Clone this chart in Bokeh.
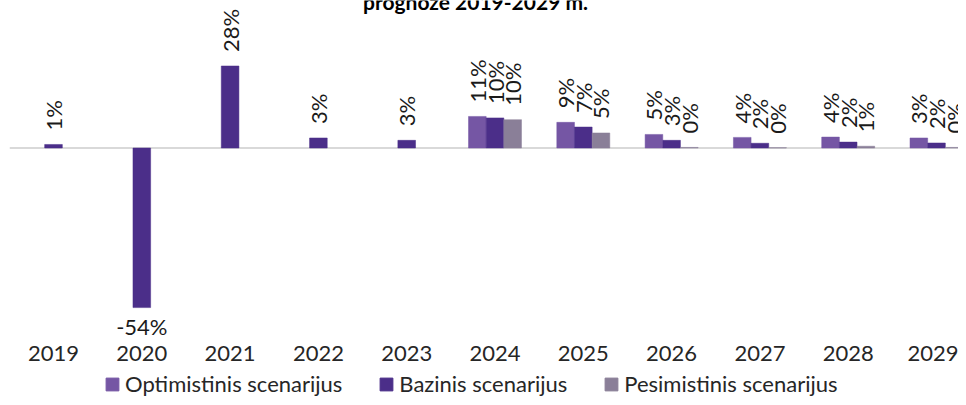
import math
from bokeh.plotting import figure
from bokeh.layouts import column
from bokeh.core.properties import value
from bokeh.models import (ColumnDataSource, Range1d, FixedTicker, Span, Legend,
                          LegendItem, Label)
from bokeh.embed import file_html
from bokeh.resources import INLINE

years = ["2019", "2020", "2021", "2022", "2023", "2024", "2025", "2026", "2027", "2028", "2029"]
optimistinis = [None, None, None, None, None, 10.7, 8.7, 4.6, 3.6, 3.7, 3.4]
bazinis = [1.2, -54.1, 27.8, 3.4, 2.6, 10.2, 7.1, 2.6, 1.6, 2.0, 1.7]
pesimistinis = [None, None, None, None, None, 9.6, 5.1, 0.2, 0.1, 0.6, 0.2]
series_names = ["Optimistinis scenarijus", "Bazinis scenarijus", "Pesimistinis scenarijus"]
series_colors = ["#7556A4", "#4B2E89", "#8A7F98"]
title_text = "prognozė 2019-2029 m."

FONT = "Lato"
PX_PER_UNIT = 2.95
FRAME_H = 338
ZERO_PX = 147.5
LEFT = 9
W = 958
CAT_W = 88.3

p = figure(width=W, height=368,
           output_backend="svg", toolbar_location=None,
           x_range=Range1d(-(53 - LEFT) / CAT_W, -(53 - LEFT) / CAT_W + (W - LEFT) / CAT_W),
           y_range=Range1d(-(FRAME_H - ZERO_PX) / PX_PER_UNIT, ZERO_PX / PX_PER_UNIT),
           y_axis_location=None,
           min_border_left=LEFT, min_border_right=0, min_border_top=0,
           min_border_bottom=368 - FRAME_H)
p.outline_line_color = None
p.xgrid.visible = False
p.ygrid.visible = False

p.add_layout(Span(location=0, dimension="width", line_color="#D9D9D9",
                  line_width=2, level="underlay"))

offsets = [-0.2, 0.0, 0.2]
all_series = [optimistinis, bazinis, pesimistinis]
sources = []
for vals, off, col in zip(all_series, offsets, series_colors):
    xs, ys, pos_x, pos_y, pos_t, neg_x, neg_y, neg_t = [], [], [], [], [], [], [], []
    for i, v in enumerate(vals):
        if v is None:
            continue
        xs.append(i + off)
        ys.append(v)
        lab = f"{round(v)}%"
        if v >= 0:
            pos_x.append(i + off); pos_y.append(v); pos_t.append(lab)
        else:
            neg_x.append(i + off); neg_y.append(v); neg_t.append(lab)
    src = ColumnDataSource(dict(x=xs, top=ys))
    sources.append(src)
    p.vbar(x="x", top="top", bottom=0, width=0.2, source=src,
           fill_color=col, line_color=col, line_width=0.5)
    p.text(x=pos_x, y=pos_y, text=pos_t, angle=math.pi / 2,
           text_align="left", text_baseline="middle", y_offset=-14,
           text_font=value(FONT), text_font_size="22px", text_color="#1a1a1a")
    if neg_x:
        p.text(x=neg_x, y=neg_y, text=neg_t, text_align="center",
               text_baseline="top", y_offset=5,
               text_font=value(FONT), text_font_size="22px", text_color="#1a1a1a")

p.xaxis.ticker = FixedTicker(ticks=list(range(len(years))))
p.xaxis.major_label_overrides = {i: y for i, y in enumerate(years)}
p.xaxis.axis_line_color = None
p.xaxis.major_tick_line_color = None
p.xaxis.minor_tick_line_color = None
p.xaxis.major_tick_in = 0
p.xaxis.major_tick_out = 0
p.xaxis.major_label_standoff = 7
p.xaxis.major_label_text_font = FONT
p.xaxis.major_label_text_font_size = "22px"
p.xaxis.major_label_text_color = "#262626"

p.add_layout(Label(x=(475 - 53) / CAT_W, y=(ZERO_PX - 1) / PX_PER_UNIT, text=title_text,
                   text_align="center", text_baseline="alphabetic",
                   text_font=FONT, text_font_size="21px", text_font_style="bold",
                   text_color="#000000"))

# legend strip: same series, drawn outside this strip's visible range
p2 = figure(width=W, height=29, output_backend="svg", toolbar_location=None,
            x_range=Range1d(0, 1), y_range=Range1d(1000, 1001),
            x_axis_location=None, y_axis_location=None, min_border=0)
p2.outline_line_color = None
p2.xgrid.visible = False
p2.ygrid.visible = False
leg_renderers = [p2.vbar(x="x", top="top", bottom=0, width=0.2, source=s,
                         fill_color=c, line_color=c)
                 for s, c in zip(sources, series_colors)]
legend = Legend(items=[LegendItem(label=n, renderers=[r]) for n, r in zip(series_names, leg_renderers)],
                orientation="horizontal", location=(95, 0),
                glyph_width=16, glyph_height=16, label_standoff=5, spacing=36,
                padding=0, margin=0, border_line_color=None, background_fill_alpha=0,
                label_text_font=FONT, label_text_font_size="22px",
                label_text_color="#262626")
p2.add_layout(legend, "center")

layout = column(p, p2, spacing=0)
open("out.html", "w").write(file_html(layout, INLINE))
